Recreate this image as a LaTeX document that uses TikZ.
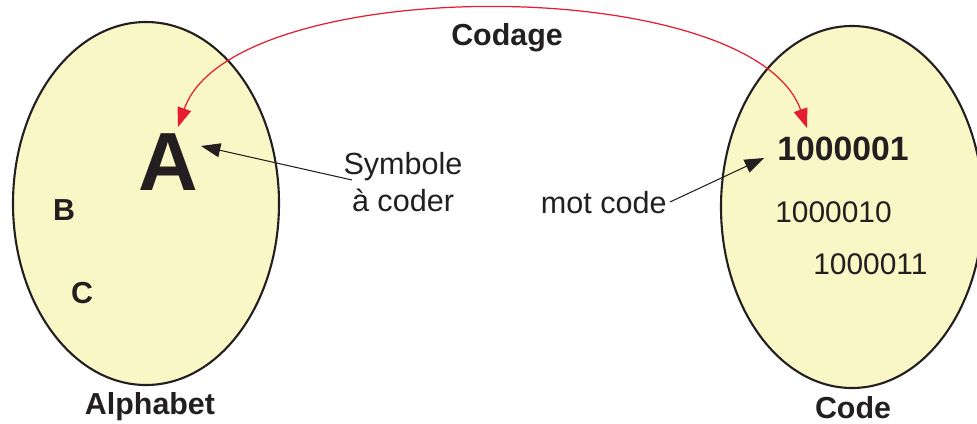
\documentclass[tikz,border=0pt]{standalone}
\usepackage{fontspec}
\setmainfont{Liberation Sans}
\usetikzlibrary{arrows.meta}
\definecolor{setfill}{RGB}{250,247,198}
\definecolor{ink}{RGB}{35,31,32}
\definecolor{arcred}{RGB}{232,28,48}
\tikzset{
  setshape/.style={draw=ink, line width=1.2pt, fill=setfill},
  lbl/.style={inner sep=0pt, text=ink, font=\fontsize{17.4}{21}\selectfont},
  blbl/.style={lbl, font=\fontsize{17.3}{21}\selectfont\bfseries},
  pointer/.style={draw=ink, line width=0.6pt, -{Triangle[length=11pt,width=8pt]}},
  codearc/.style={draw=arcred, line width=0.7pt, {Triangle[length=11pt,width=8pt]}-{Triangle[length=11pt,width=8pt]}},
}
\begin{document}
\begin{tikzpicture}[x=0.02cm,y=-0.02cm]
\useasboundingbox (0,0) rectangle (977,423);
\clip (0,0) rectangle (977,423);
% sets
\draw[setshape] (146,203.5) ellipse [x radius=133, y radius=181.5];
\draw[setshape] (852,207) ellipse [x radius=131, y radius=181];
% left set contents
\node[lbl, anchor=base, font=\fontsize{47}{50}\selectfont\bfseries] (A) at (168,190) {A};
\node[blbl, anchor=base] (B) at (64,220) {B};
\node[blbl, anchor=base] (C) at (82,303) {C};
\node[blbl, anchor=base] (alph) at (150,414) {Alphabet};
% right set contents
\node[lbl, anchor=base west, font=\fontsize{19.2}{22}\selectfont\bfseries] (w1) at (777,160) {1000001};
\node[lbl, anchor=base west, font=\fontsize{17}{20}\selectfont] (w2) at (775,222) {1000010};
\node[lbl, anchor=base west, font=\fontsize{17}{20}\selectfont] (w3) at (813,274) {1000011};
\node[blbl, anchor=base] (code) at (853,418) {Code};
% labels
\node[blbl, anchor=base] (codage) at (507,45) {Codage};
\node[lbl, align=center, anchor=north] (sym) at (403,152) {Symbole\\à coder};
\node[lbl, anchor=base east] (mot) at (667,213) {mot code};
% connectors
\coordinate (symtail) at (352,180);
\coordinate (Atip) at (201,146);
\coordinate (mottail) at (670,202);
\coordinate (wtip) at (764,158);
\coordinate (arcL) at (178,127);
\coordinate (arcR) at (807,128);
\draw[pointer] (symtail) -- (Atip);
\draw[pointer] (mottail) -- (wtip);
\draw[codearc] (arcL) .. controls (232,-28) and (752,-28) .. (arcR);
\end{tikzpicture}
\end{document}
